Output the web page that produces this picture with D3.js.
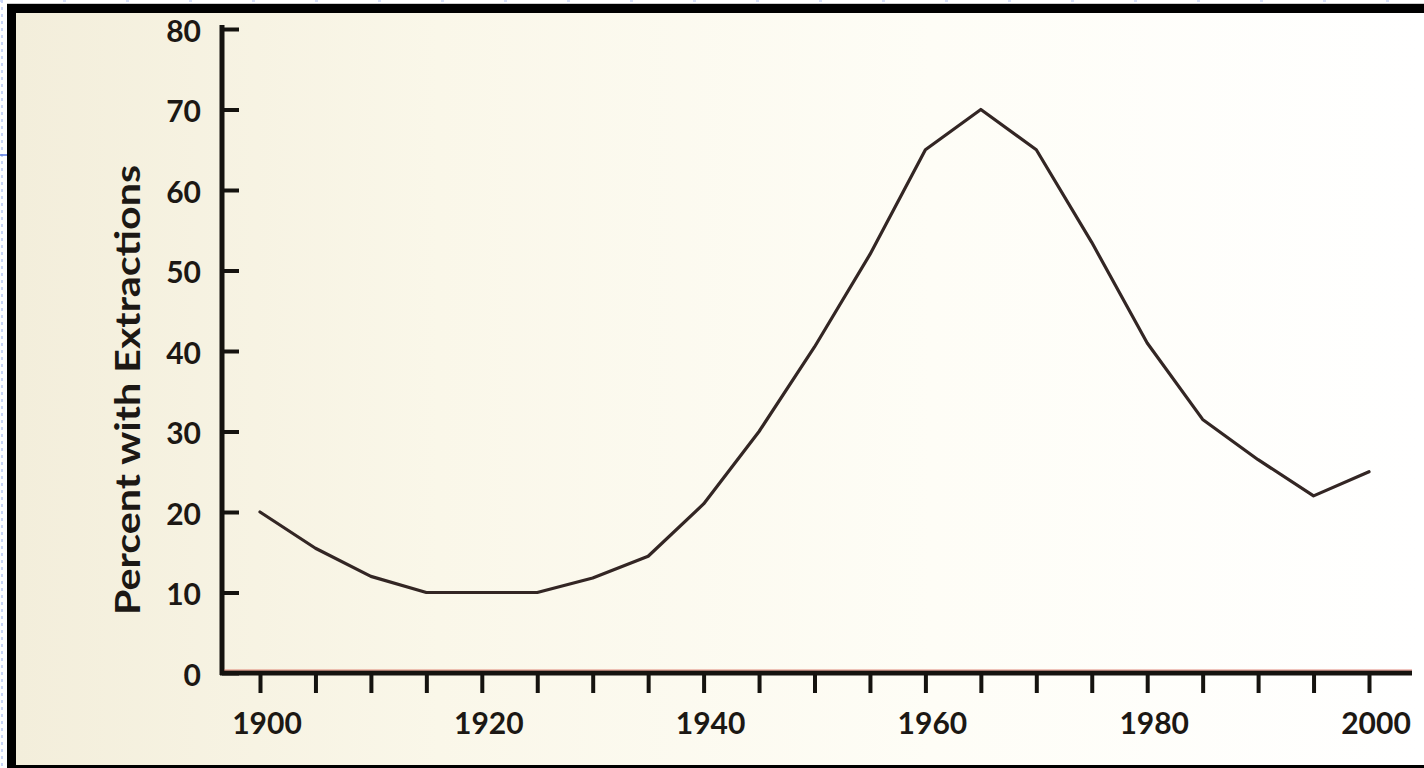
<!DOCTYPE html>
<html>
<head>
<meta charset="utf-8">
<script src="https://cdn.jsdelivr.net/npm/d3@7"></script>
<style>
    body { margin: 0; background: #ffffff; overflow: hidden; }
    svg { display: block; }
    text { font-family: Lato, "Open Sans", sans-serif; font-weight: bold; fill: #1c1814; }
</style>
</head>
<body>
<svg id="chart"></svg>
<script>
// data
const years = [1900, 1905, 1910, 1915, 1920, 1925, 1930, 1935, 1940, 1945, 1950,
    1955, 1960, 1965, 1970, 1975, 1980, 1985, 1990, 1995, 2000];
const percentWithExtractions = [20, 15.5, 12, 10, 10, 10, 11.8, 14.5, 21, 30, 40.5,
    52, 65, 70, 65, 53.5, 41, 31.5, 26.5, 22, 25];
const yTicks = [0, 10, 20, 30, 40, 50, 60, 70, 80];
const xLabels = [1900, 1920, 1940, 1960, 1980, 2000];
const yTitle = 'Percent with Extractions';

const width = 1424;
const height = 768;

const svg = d3.select('#chart')
    .attr('width', width)
    .attr('height', height);

// page + scan frame
const defs = svg.append('defs');
const grad = defs.append('linearGradient')
    .attr('id', 'paper')
    .attr('x1', 0).attr('x2', 1).attr('y1', 0).attr('y2', 0);
grad.append('stop').attr('offset', '0%').attr('stop-color', '#f3eedb');
grad.append('stop').attr('offset', '30%').attr('stop-color', '#faf7e9');
grad.append('stop').attr('offset', '65%').attr('stop-color', '#fefdf6');
grad.append('stop').attr('offset', '100%').attr('stop-color', '#ffffff');

svg.append('line')
    .attr('x1', 2).attr('x2', 2).attr('y1', 0).attr('y2', height)
    .attr('stroke', '#b8c8f4').attr('stroke-width', 1.5).attr('stroke-dasharray', '3,4');
svg.append('line')
    .attr('x1', 0).attr('x2', width).attr('y1', 1).attr('y2', 1)
    .attr('stroke', '#c8d4f6').attr('stroke-width', 1.5).attr('stroke-dasharray', '3,60');
svg.append('line')
    .attr('x1', 0).attr('x2', 10).attr('y1', 155).attr('y2', 155)
    .attr('stroke', '#5a78e0').attr('stroke-width', 1.5);
svg.append('line')
    .attr('x1', 7).attr('x2', width).attr('y1', 4).attr('y2', 4)
    .attr('stroke', '#999').attr('stroke-width', 1);

svg.append('rect')
    .attr('x', 7).attr('y', 4)
    .attr('width', width - 7).attr('height', height - 4)
    .attr('fill', '#000');
svg.append('rect')
    .attr('x', 16).attr('y', 13)
    .attr('width', width - 16).attr('height', 752)
    .attr('fill', 'url(#paper)');

// scales
const x = d3.scaleLinear().domain([1900, 2000]).range([260, 1369]);
const y = d3.scaleLinear().domain([0, 80]).range([673, 29]);

const axisColor = '#15130f';

// y axis
const yAxis = d3.axisRight(y)
    .tickValues(yTicks)
    .tickSize(17)
    .tickFormat('');
const gy = svg.append('g')
    .attr('transform', 'translate(222,0)')
    .call(yAxis);
gy.select('.domain').remove();
gy.selectAll('.tick line').attr('stroke', axisColor).attr('stroke-width', 4);
svg.append('line')
    .attr('x1', 222).attr('x2', 222)
    .attr('y1', y(80) - 4).attr('y2', y(0) + 2)
    .attr('stroke', axisColor).attr('stroke-width', 5);

svg.selectAll('.ylab')
    .data(yTicks)
    .enter()
    .append('text')
    .attr('class', 'ylab')
    .attr('x', 201)
    .attr('y', d => y(d) + 5)
    .attr('text-anchor', 'end')
    .attr('dominant-baseline', 'middle')
    .style('font-size', '30px')
    .text(d => d);

// x axis
const xAxis = d3.axisBottom(x)
    .tickValues(years)
    .tickSize(20)
    .tickFormat('');
const gx = svg.append('g')
    .attr('transform', `translate(0,${y(0)})`)
    .call(xAxis);
gx.select('.domain').remove();
gx.selectAll('.tick line').attr('stroke', axisColor).attr('stroke-width', 4);
svg.append('line')
    .attr('x1', 220).attr('x2', 1412)
    .attr('y1', y(0)).attr('y2', y(0))
    .attr('stroke', axisColor).attr('stroke-width', 5);
svg.append('line')
    .attr('x1', 224).attr('x2', 1412)
    .attr('y1', y(0) - 3).attr('y2', y(0) - 3)
    .attr('stroke', '#d65a4a').attr('stroke-width', 1.2).attr('opacity', 0.7);

svg.selectAll('.xlab')
    .data(xLabels)
    .enter()
    .append('text')
    .attr('class', 'xlab')
    .attr('x', d => x(d) + 7)
    .attr('y', 726)
    .attr('text-anchor', 'middle')
    .attr('dominant-baseline', 'middle')
    .style('font-size', '30px')
    .text(d => d);

// y title
svg.append('text')
    .attr('transform', 'translate(140,390) rotate(-90)')
    .attr('text-anchor', 'middle')
    .attr('textLength', 450)
    .attr('lengthAdjust', 'spacingAndGlyphs')
    .style('font-size', '35px')
    .text(yTitle);

// the curve
const line = d3.line()
    .x((d, i) => x(years[i]))
    .y(d => y(d));

svg.append('path')
    .datum(percentWithExtractions)
    .attr('d', line)
    .attr('fill', 'none')
    .attr('stroke', '#332624')
    .attr('stroke-width', 3.2)
    .attr('stroke-linejoin', 'round')
    .attr('stroke-linecap', 'round');
</script>
</body>
</html>
